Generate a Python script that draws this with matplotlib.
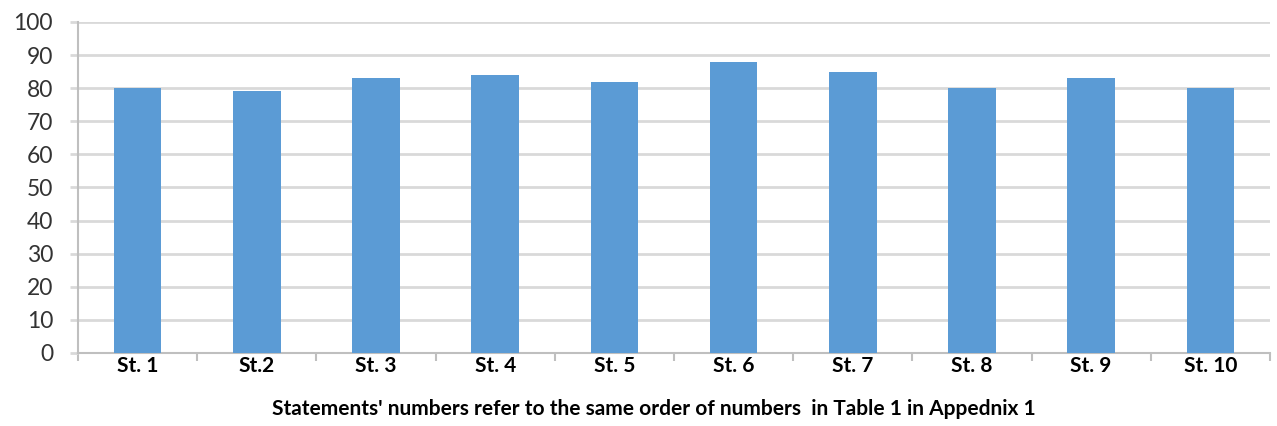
import matplotlib.pyplot as plt
import numpy as np

# Scores per statement
statements = ["St. 1", "St.2", "St. 3", "St. 4", "St. 5", "St. 6", "St. 7", "St. 8", "St. 9", "St. 10"]
scores = [80, 79, 83, 84, 82, 88, 85, 80, 83, 80]
yticks = list(range(0, 101, 10))

plt.rcParams['font.family'] = ['Lato', 'DejaVu Sans']

fig = plt.figure(figsize=(12.77, 4.26), dpi=100)
ax = fig.add_axes([0.0611, 0.1714, 0.9334, 0.777])

x = np.arange(len(statements))
ax.bar(x, scores, width=0.4, color="#5B9BD5", zorder=3)

ax.set_xlim(-0.5, len(statements) - 0.5)
ax.set_ylim(0, 100)

# value axis
ax.set_yticks(yticks)
ax.set_yticklabels([str(v) for v in yticks], fontsize=16.5, color="#333333")
ax.yaxis.grid(True, color="#d9d9d9", linewidth=2, zorder=0)
ax.tick_params(axis="y", length=6, width=2, color="#d9d9d9", pad=12)

# category axis: labels at centres, ticks at the boundaries
ax.set_xticks(x)
ax.set_xticklabels(statements, fontsize=15, fontweight="bold", color="black")
ax.tick_params(axis="x", length=0, pad=2)
ax.set_xticks(np.arange(len(statements) + 1) - 0.5, minor=True)
ax.tick_params(axis="x", which="minor", length=6, width=1.5, color="#bfbfbf")

for side in ["top", "right"]:
    ax.spines[side].set_visible(False)
ax.spines["left"].set_color("#bfbfbf")
ax.spines["left"].set_linewidth(1.5)
ax.spines["bottom"].set_color("#bfbfbf")
ax.spines["bottom"].set_linewidth(1.5)

ax.set_xlabel("Statements' numbers refer to the same order of numbers  in Table 1 in Appednix 1",
              fontsize=15, fontweight="bold")
ax.xaxis.set_label_coords(0.483, -0.14)

fig.savefig("out.png", dpi=100)
